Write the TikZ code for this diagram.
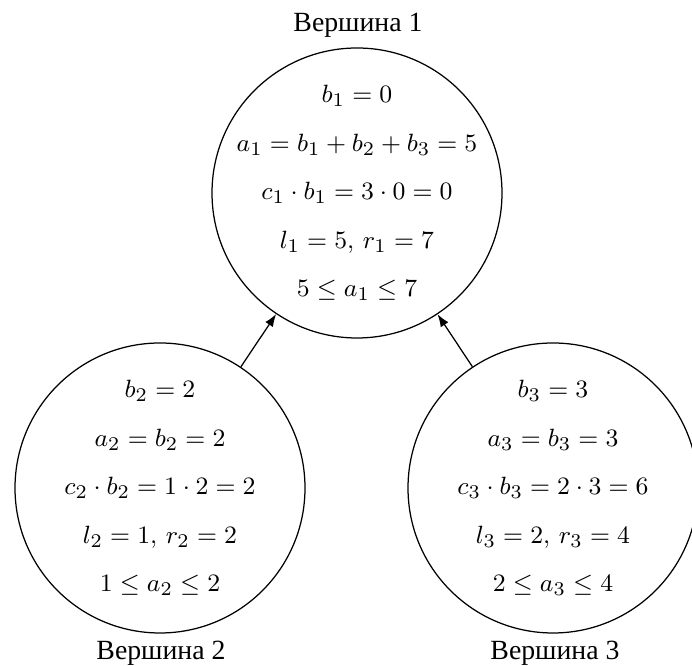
\documentclass[tikz,border=0pt]{standalone}
\usepackage{fontspec}
\newfontfamily\cyr{Liberation Serif}
\usetikzlibrary{arrows.meta}
\begin{document}
\begin{tikzpicture}[x=0.36pt,y=-0.36pt,
  vert/.style={circle,draw,line width=0.45pt,minimum size=104.4pt,inner sep=0pt},
  txt/.style={align=center,inner sep=0pt,font=\fontsize{9.5pt}{17.5pt}\selectfont},
  lbl/.style={font=\cyr\fontsize{10pt}{12pt}\selectfont,inner sep=0pt},
  edge/.style={-{Latex[length=4.5pt,width=3.3pt]},line width=0.45pt}]
\useasboundingbox (0,0) rectangle (692,666);
\node[vert] (v1) at (357,193) {};
\node[vert] (v2) at (160,488) {};
\node[vert] (v3) at (553,488) {};
\node[txt] (t1) at (v1) {$b_1=0$\\ $a_1=b_1+b_2+b_3=5$\\ $c_1\cdot b_1=3\cdot 0=0$\\ $l_1=5,\, r_1=7$\\ $5\le a_1\le 7$};
\node[txt] (t2) at (v2) {$b_2=2$\\ $a_2=b_2=2$\\ $c_2\cdot b_2=1\cdot 2=2$\\ $l_2=1,\, r_2=2$\\ $1\le a_2\le 2$};
\node[txt] (t3) at (v3) {$b_3=3$\\ $a_3=b_3=3$\\ $c_3\cdot b_3=2\cdot 3=6$\\ $l_3=2,\, r_3=4$\\ $2\le a_3\le 4$};
\node[lbl] (l1) at (358,25) {Вершина 1};
\node[lbl] (l2) at (161,653) {Вершина 2};
\node[lbl] (l3) at (555,653) {Вершина 3};
\draw[edge] (v2) -- (v1);
\draw[edge] (v3) -- (v1);
\end{tikzpicture}
\end{document}
